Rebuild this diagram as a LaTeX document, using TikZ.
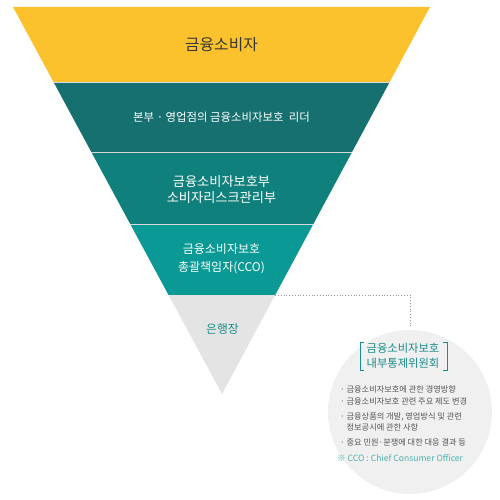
\documentclass[tikz,border=0pt]{standalone}
\usepackage{fontspec}
\setmainfont{Noto Sans CJK KR}
\usetikzlibrary{calc}

\definecolor{bandyellow}{HTML}{FBC22E}
\definecolor{banddark}{HTML}{167070}
\definecolor{bandmid}{HTML}{0F807C}
\definecolor{bandlight}{HTML}{0A9994}
\definecolor{bandgray}{HTML}{E4E4E4}
\definecolor{circlegray}{HTML}{F0F0F0}
\definecolor{titleteal}{HTML}{1A8C8A}
\definecolor{itemgray}{HTML}{555555}
\definecolor{noteteal}{HTML}{4AB2AE}
\definecolor{linegray}{HTML}{999999}

\begin{document}
\begin{tikzpicture}[x=1pt,y=-1pt,
    bandtext/.style={align=center,inner sep=0pt},
    itemtext/.style={anchor=west,inner sep=0pt,text=itemgray,font=\fontsize{8.2}{9}\selectfont}]
    \useasboundingbox (0,0) rectangle (500,500);
    % outline of the funnel
    \coordinate (tl) at (13,7);
    \coordinate (tr) at (430,7);
    \coordinate (apex) at (222,394);
    \foreach \n/\t in {1/0.1938,2/0.3747,3/0.5607,4/0.7442}{
        \coordinate (l\n) at ($(tl)!\t!(apex)$);
        \coordinate (r\n) at ($(tr)!\t!(apex)$);
    }
    % bands
    \fill[bandyellow](tl)--(tr)--(r1)--(l1)--cycle;
    \fill[banddark](l1)--(r1)--(r2)--(l2)--cycle;
    \fill[bandmid](l2)--(r2)--(r3)--(l3)--cycle;
    \fill[bandlight](l3)--(r3)--(r4)--(l4)--cycle;
    \fill[bandgray](l4)--(r4)--(apex)--cycle;
    \foreach \n in {1,2,3}{
        \draw[white!85!black, line width=0.6pt](l\n)--(r\n);
    }
    % band labels
    \node[bandtext, text=black!78, font=\fontsize{15.8}{17}\selectfont] (consumer) at (221.5,45) {금융소비자};
    \node[bandtext, text=white, font=\fontsize{11.4}{13}\selectfont] (leader) at (221.5,117) {본부 · 영업점의 금융소비자보호\hspace{0.45em}리더};
    \node[bandtext, text=white, font=\fontsize{13.2}{16}\selectfont] (dept) at (221.5,190) {금융소비자보호부\\소비자리스크관리부};
    \node[bandtext, text=white, font=\fontsize{12}{18}\selectfont] (cco) at (221.5,259) {금융소비자보호\\총괄책임자(CCO)};
    \node[bandtext, text=titleteal, font=\fontsize{11.8}{13}\selectfont] (ceo) at (222.5,329) {은행장};
    % committee
    \node[circle, fill=circlegray, minimum size=164pt, inner sep=0pt] (cmte) at (410,412) {};
    \draw[dotted, linegray, thick, shorten >=4pt](r4)-|(cmte.north);
    \node[bandtext, text=titleteal, font=\fontsize{11.3}{15}\selectfont] (cmtetitle) at (403,355.5) {금융소비자보호\\내부통제위원회};
    \draw[titleteal, line width=0.9pt](364,342)--(360,342)--(360,370)--(364,370);
    \draw[titleteal, line width=0.9pt](443,342)--(447,342)--(447,370)--(443,370);
    \node[itemtext] (item1) at (340,389) {· 금융소비자보호에 관한 경영방향};
    \node[itemtext] (item2) at (340,401.5) {· 금융소비자보호 관련 주요 제도 변경};
    \node[itemtext] (item3) at (340,417) {· 금융상품의 개발, 영업방식 및 관련};
    \node[itemtext] (item3b) at (340,427) {\phantom{· }정보공시에 관한 사항};
    \node[itemtext] (item4) at (340,442) {· 중요 민원·분쟁에 대한 대응 결과 등};
    \node[itemtext, text=noteteal, font=\fontsize{8.6}{9}\selectfont] (note) at (337,458) {※ CCO : Chief Consumer Officer};
\end{tikzpicture}
\end{document}
